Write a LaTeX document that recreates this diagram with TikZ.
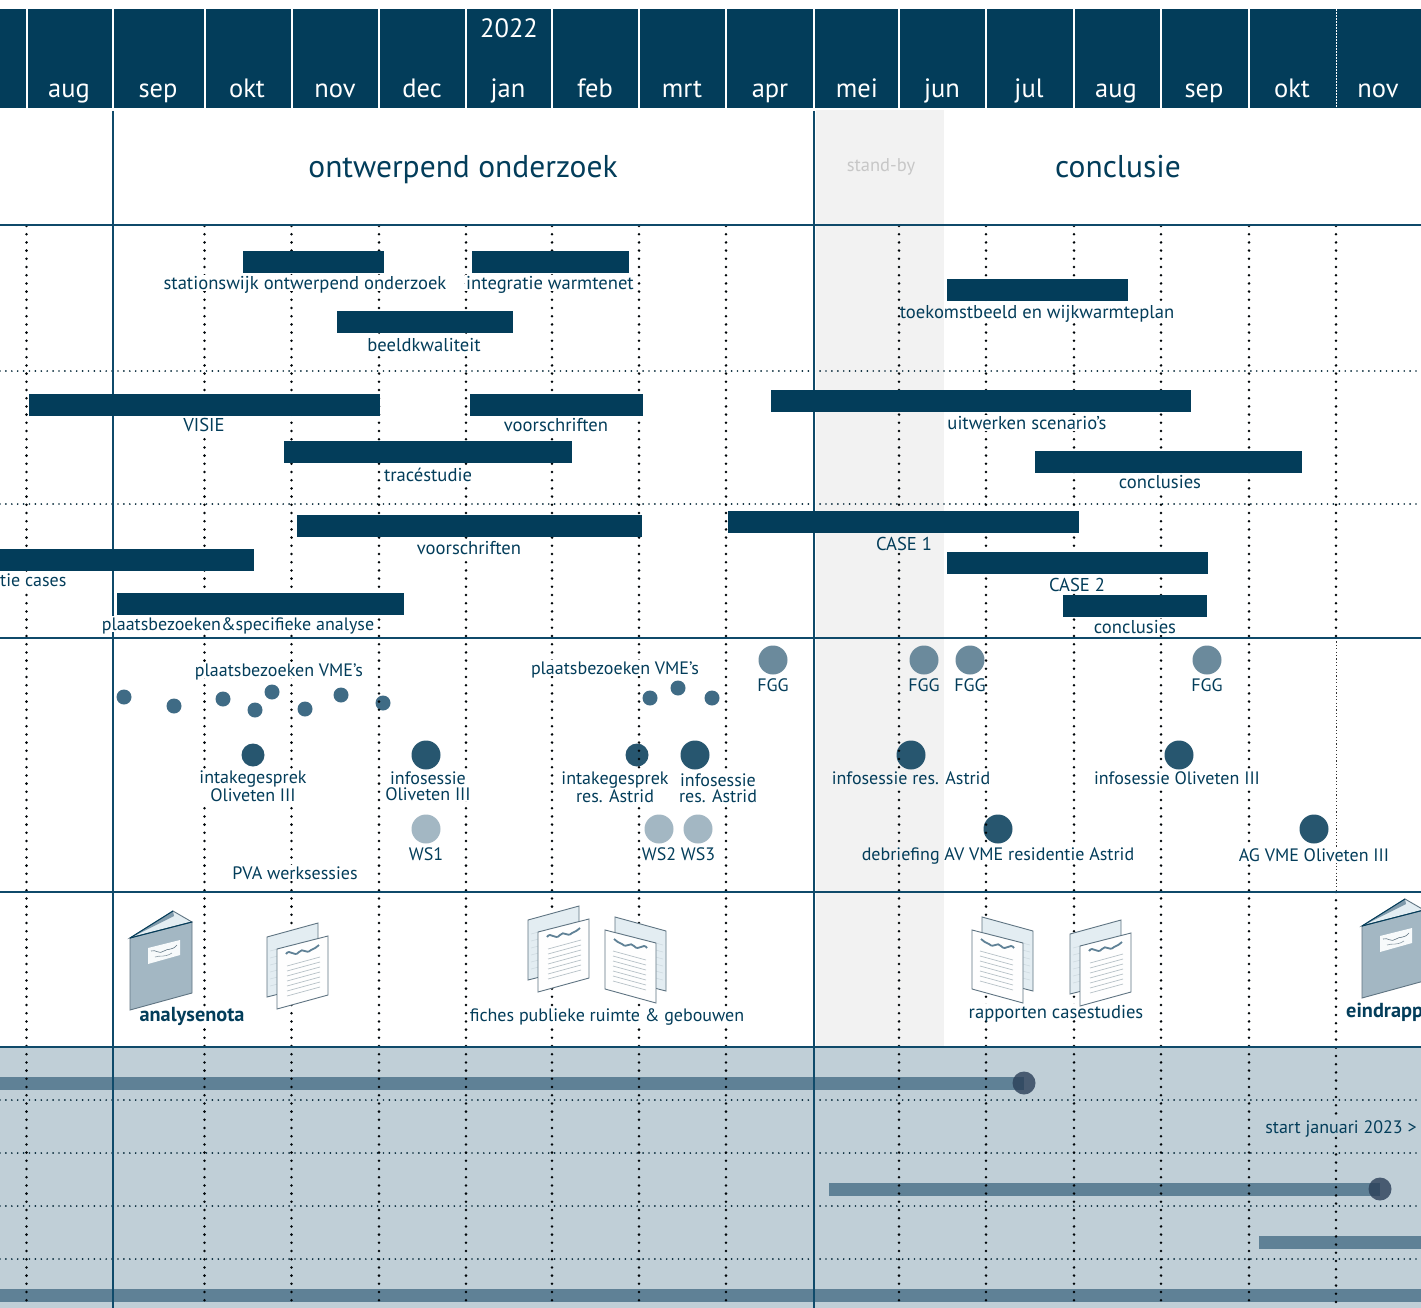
\documentclass[tikz,border=0pt]{standalone}
\usepackage{fontspec}
\setmainfont{PT Sans}
\usepackage{tikz}
\definecolor{ink}{HTML}{033D5A}
\definecolor{lineblue}{HTML}{0F4A6A}
\definecolor{steel}{HTML}{5F8196}
\definecolor{zone}{HTML}{C0CFD7}
\definecolor{fogg}{HTML}{6B8A9C}
\definecolor{pale}{HTML}{A3B7C3}
\definecolor{deep}{HTML}{27566F}
\definecolor{midblue}{HTML}{3F6B85}
\definecolor{edge}{HTML}{5F7482}
\definecolor{SheetBack}{HTML}{E3EDF2}
\definecolor{laneend}{HTML}{2A3F58}
\tikzset{
    pics/sheets/.style={code={
        \draw[fill=SheetBack, draw=edge, line width=0.9pt] (0,0) -- (51,-14) -- (51,47) -- (0,60) -- cycle;
        \foreach \ly in {0,...,5} \draw[SheetBack!85!edge, line width=0.6pt] (3,14+7*\ly) -- (48,2+7*\ly);
        \draw[fill=white!96!SheetBack, draw=edge, line width=0.9pt] (10,12) -- (61,-1) -- (61,58) -- (10,72) -- cycle;
        \draw[steel, line width=1.8pt] (19,17) .. controls (23,11) and (27,21) .. (32,15) .. controls (36,10) and (39,18) .. (44,13) .. controls (47,11) and (50,11) .. (52,8);
        \foreach \ly in {0,...,6} \draw[edge!45!white, line width=0.7pt] (20,29+5*\ly) -- (53,20+5*\ly);
    }},
    pics/booklet/.style={code={
        \draw[fill=SheetBack, draw=edge, line width=0.9pt] (0,0) -- (43,-27) -- (62,-16) -- cycle;
        \fill[steel!80!white] (0,0) -- (43,-27) -- (44,-22) -- cycle;
        \draw[fill=pale, draw=edge, line width=0.9pt] (0,0) -- (62,-16) -- (62,55) -- (0,72) -- cycle;
        \draw[ink, line width=1pt] (0,0) -- (43,-27);
        \draw[ink, line width=1pt] (0,0) -- (62,-16);
        \fill[white!70!SheetBack] (18,10) -- (50,2) -- (50,17) -- (18,26) -- cycle;
        \draw[edge, line width=0.6pt] (21,13) .. controls (26,11) and (29,17) .. (34,13) .. controls (38,10) and (42,13) .. (47,7);
        \draw[edge!70!white, line width=0.6pt] (25,19) .. controls (30,17) and (34,20) .. (42,15);
    }}
}
\begin{document}
\begin{tikzpicture}[
            x=1pt, y=-1pt,
            font=\fontsize{18}{16}\selectfont,
            month/.style   ={text=white, inner sep=0, font=\fontsize{26.5}{26}\selectfont, text height=22pt, text depth=4pt},
            phase/.style   ={text=ink, inner sep=0, font=\fontsize{31.5}{30}\selectfont, text height=22pt, text depth=2pt},
            lbl/.style     ={text=ink, fill=white, inner xsep=1pt, inner ysep=0, text height=14pt, text depth=2pt},
            lbl bare/.style={lbl, fill=none},
            lbl task/.style={lbl, font=\fontsize{18.6}{16}\selectfont},
            lbl bold/.style={lbl, font=\fontsize{20.3}{16}\selectfont\bfseries},
            lbltwo/.style  ={text=ink, fill=white, inner xsep=1pt, inner ysep=0, align=center},
            task/.style    ={fill=ink, inner sep=0, minimum height=22pt},
            lane/.style    ={fill=steel, inner sep=0, minimum height=13pt},
            endpt/.style   ={circle, fill=laneend, fill opacity=0.8, inner sep=0, minimum size=23pt},
            grid v/.style  ={black!90!ink, line width=2.8pt, line cap=round, dash pattern=on 0pt off 8.2pt},
            grid h/.style  ={black!40!ink, line width=1.9pt, line cap=round, dash pattern=on 0pt off 5.9pt},
            hrule/.style   ={lineblue, line width=2pt},
            vrule/.style   ={lineblue, line width=2.6pt},
            dot big/.style ={circle, inner sep=0, minimum size=29pt},
            dot sm/.style  ={circle, inner sep=0, minimum size=15pt, fill=midblue}
        ]
        \useasboundingbox (0,0) rectangle (1421,1308);
        \clip (0,0) rectangle (1421,1308);
        \fill[white] (0,0) rectangle (1421,1308);
        %% ---- background bands ------------------------------------------------
        \fill[black!5] (816,110) rectangle (944,1046);
        \fill[zone] (0,1047) rectangle (1421,1308);

        %% ---- bottom lanes (below the dotted grid) ----------------------------
        \foreach \xa/\xb/\ya [count=\nr] in {-5/1024/1083, 829/1380/1189.5, 1259/1430/1242, -5/1430/1295}
            \node[lane, minimum width={(\xb-\xa)*1pt}, name=lane\nr] at ({(\xa+\xb)/2},\ya) {};

        %% ---- events, the grid runs over them ---------------------------------
        \foreach \ex [count=\nr] in {773,924,970,1207}
            \node[dot big, fill=fogg, name=fgg\nr] at (\ex,660) {};
        \foreach \ex/\ey [count=\nr] in {124/697,174/706,223/699,255/710,272/692,305/709,341/695,383/703,650/698,678/688,712/698}
            \node[dot sm, name=visit\nr] at (\ex,\ey) {};
        \foreach \ex/\ey/\esize [count=\nr] in {253/755/23,426/755/29,637/755/23,695/755/29,911/755/29,1179/755/29,998/829/29,1314/829/29}
            \node[dot big, fill=deep, minimum size=\esize pt, name=talk\nr] at (\ex,\ey) {};
        \foreach \ex [count=\nr] in {426,659,698}
            \node[dot big, fill=pale, name=ws\nr] at (\ex,829) {};

        %% ---- dotted grid -----------------------------------------------------
        \foreach \gy in {371,504,1100,1153,1206,1259}
            \draw[grid h] (0,\gy) -- (1421,\gy);
        \foreach \gx in {26.5,204.5,291.5,379,466,552,639,726,899,986,1074,1161,1249}
            \draw[grid v] (\gx,226) -- (\gx,1304);
        \draw[grid v] (1336,226) -- (1336,638);
        \draw[grid v] (1336,892) -- (1336,1304);
        % thin stretch in the events row
        \draw[black!80, line width=0.9pt, dash pattern=on 1.2pt off 2.2pt] (1336,638) -- (1336,892);

        %% ---- rules -----------------------------------------------------------
        \foreach \gy in {225,638,892,1047}
            \draw[hrule] (0,\gy) -- (1421,\gy);
        \foreach \gx in {113,814}
            \draw[vrule] (\gx,111) -- (\gx,1308);

        %% ---- header with the months ------------------------------------------
        \fill[ink] (0,9) rectangle (1421,108);
        \foreach \gx in {26.5,113,204.5,291.5,379,466,552,639,726,814,899,986,1074,1161,1249}
            \draw[white, line width=2pt] (\gx,9) -- (\gx,108);
        \draw[white, line width=1pt, dash pattern=on 2pt off 1pt] (1336,9) -- (1336,108);
        \foreach \mx/\mname [count=\nr] in {69/aug,158/sep,247/okt,335/nov,422/dec,508/jan,595/feb,682/mrt,770/apr,857/mei,942/jun,1029/jul,1116/aug,1204/sep,1292/okt,1378/nov}
            \node[month, name=month\nr] at (\mx,89) {\mname};
        \node[month] (year) at (509,29) {2022};

        %% ---- phases ----------------------------------------------------------
        \node[phase] (onderzoek) at (463,168) {ontwerpend onderzoek};
        \node[phase] (conclusie) at (1118,168) {conclusie};
        \node[lbl bare, text=black!22, font=\fontsize{18.5}{16}\selectfont] (standby) at (881,166) {stand-by};

        %% ---- task bars -------------------------------------------------------
        \foreach \xa/\xb/\ya [count=\nr] in {243/384/262, 472/629/262, 337/513/322, 947/1128/290, 29/380/405, 470/643/405, 284/572/452, 771/1191/401, 1035/1302/462, 297/642/526, 728/1079/522, 947/1208/563, 1063/1207/606, -5/254/560, 117/404/604}
            \node[task, minimum width={(\xb-\xa)*1pt}, name=task\nr] at ({(\xa+\xb)/2},\ya) {};

        \foreach \lx/\ly/\ltxt [count=\nr] in {305/283/stationswijk ontwerpend onderzoek, 550/283/integratie warmtenet, 424/345/beeldkwaliteit, 204/425/VISIE, 556/425/voorschriften, 428/475/tracéstudie, 1027/423/uitwerken scenario's, 1160/482/conclusies, 469/548/voorschriften, 1077/585/CASE 2, 1135/627/conclusies}
            \node[lbl task, name=tasklbl\nr] at (\lx,\ly) {\ltxt};
        \node[lbl] (analyse1) at (238,624) {plaatsbezoeken\&specifieke analyse};
        \node[lbl task, fill=black!5] (case1) at (904,544) {CASE 1};
        \node[lbl, anchor=west, inner xsep=0] (taskcut) at (0,580) {tie cases};

        %% ---- event labels ----------------------------------------------------
        \foreach \ex [count=\nr] in {773,924,970,1207}
            \node[lbl bare, name=fgglbl\nr] at (\ex,685) {FGG};
        \node[lbl] (visits1) at (279,670) {plaatsbezoeken VME's};
        \node[lbl] (visits2) at (615,668) {plaatsbezoeken VME's};
        \node[lbltwo] (intake1) at (253,786.5) {intakegesprek\\Oliveten III};
        \node[lbltwo] (info1) at (428,786.5) {infosessie\\Oliveten III};
        \node[lbltwo] (intake2) at (615,787.5) {intakegesprek\\res. Astrid};
        \node[lbltwo] (info2) at (718,788.5) {infosessie\\res. Astrid};
        \foreach \lx/\ly/\ltxt [count=\nr] in {1177/778/infosessie Oliveten III, 1314/855/AG VME Oliveten III, 426/854/WS1, 659/854/WS2, 698/854/WS3, 295/873/PVA werksessies}
            \node[lbl, name=evlbl\nr] at (\lx,\ly) {\ltxt};

        % these three lie half on the stand-by band, so they mask the grid in two colours
        \foreach \xa/\xb/\ly [count=\nr] in {902/1173/312, 832/990/778, 862/1135/854} {
            \fill[black!5] (\xa,\ly-8) rectangle (944,\ly+8);
            \fill[white] (944,\ly-8) rectangle (\xb,\ly+8);
        }
        \node[lbl bare, font=\fontsize{18.6}{16}\selectfont] (toekomst) at (1037,312) {toekomstbeeld en wijkwarmteplan};
        \node[lbl bare] (infores) at (911,778) {infosessie res. Astrid};
        \node[lbl bare] (debrief) at (998,854) {debriefing AV VME residentie Astrid};

        %% ---- documents -------------------------------------------------------
        \node[lbl bold] (analyse) at (192,1015) {analysenota};
        \node[lbl] (fiches) at (607,1015) {fiches publieke ruimte \& gebouwen};
        \node[lbl task] (rapporten) at (1056,1012) {rapporten casestudies};
        \node[lbl bold, anchor=west, inner xsep=0] (eind) at (1346,1011) {eindrapp};
        \pic at (130,938) {booklet};
        \pic at (267,937) {sheets};
        \pic at (528,920) {sheets};
        \pic[xscale=-1] at (666,931) {sheets};
        \pic[xscale=-1] at (1033,931) {sheets};
        \pic at (1070,934) {sheets};
        \pic at (1362,926) {booklet};

        %% ---- lane ends -------------------------------------------------------
        \node[endpt] (end1) at (1024,1083) {};
        \node[endpt] (end2) at (1380,1189) {};
        \node[lbl, fill=zone] (start) at (1341,1127) {start januari 2023 >};
    \end{tikzpicture}
\end{document}
